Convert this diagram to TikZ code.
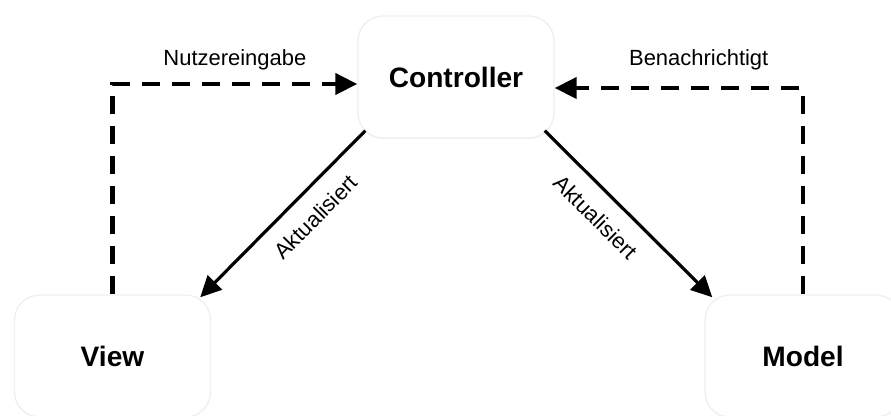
\documentclass[tikz,border=0pt]{standalone}
\usepackage{fontspec}
\setmainfont{Liberation Sans}
\usetikzlibrary{arrows.meta,shadows}
\begin{document}
\begin{tikzpicture}[
  box/.style={draw=black!6,line width=0.8pt,fill=white,rounded corners=0.5cm,
    minimum width=3.92cm,minimum height=2.44cm,
    drop shadow={opacity=0.08,shadow xshift=0pt,shadow yshift=-0.6pt},
    font=\fontsize{16}{19}\selectfont\bfseries},
  flow/.style={line width=2.4pt,dash pattern=on 0.36cm off 0.24cm,
    -{Triangle[length=0.44cm,width=0.42cm]}},
  update/.style={line width=1.8pt,-{Triangle[length=0.42cm,width=0.4cm]}},
  lbl/.style={font=\fontsize{12.5}{15}\selectfont}
]
\useasboundingbox (0,0) rectangle (17.82,8.32);

% Boxes
\node[box] (ctrl) at (9.12,6.78) {Controller};
\node[box] (view) at (2.25,1.2) {View};
\node[box] (model) at (16.06,1.2) {Model};

% User input and notification
\draw[flow] (view.north) |- ([yshift=-0.14cm]ctrl.west)
  node[lbl,pos=0.75,above=0.12cm] {Nutzereingabe};
\draw[flow] (model.north) |- ([yshift=-0.22cm]ctrl.east)
  node[lbl,pos=0.71,above=0.2cm] {Benachrichtigt};

% Updates
\draw[update] ([shift={(0.16,0.16)}]ctrl.south west) -- ([shift={(-0.22,-0.06)}]view.north east)
  node[lbl,sloped,pos=0.41,below=0.2cm] {Aktualisiert};
\draw[update] ([shift={(-0.2,0.16)}]ctrl.south east) -- ([shift={(0.16,-0.06)}]model.north west)
  node[lbl,sloped,pos=0.41,below=0.2cm] {Aktualisiert};
\end{tikzpicture}
\end{document}
